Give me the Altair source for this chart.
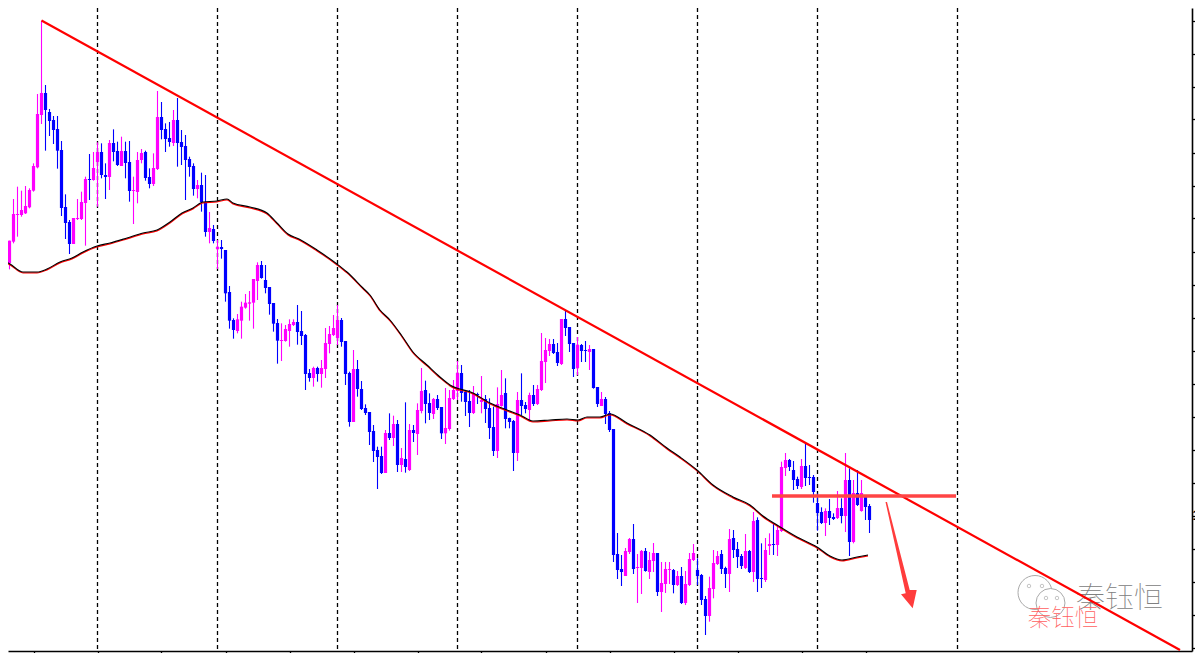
import altair as alt
import pandas as pd

# Candles: colour, high, body top, body bottom, low
# Each block is in units of 1/3 pixel, measured from the block's own top edge.
CANDLES_A = [  # offset 0
("b",660,705,742,745),("b",735,738,790,818),("m",722,722,790,808),("m",597,642,725,730),("m",560,642,645,710),
("m",572,630,645,650),("m",558,618,640,642),("m",565,570,622,625),("m",490,498,572,575),("m",282,342,502,505),
("m",62,279,345,372),("b",255,279,330,452),("b",327,336,363,408),("b",348,360,390,432),("b",348,387,452,506),
("b",423,450,624,648),("b",583,621,669,717),("b",660,666,732,762),("m",654,654,732,732),("m",597,654,657,660),
("m",575,606,657,660),("m",530,537,609,737),("b",462,537,540,600),("m",456,504,540,542),("m",427,456,486,620),
("b",430,456,525,535),("b",490,525,531,597),("m",420,429,531,570),("b",388,429,456,484),("b",425,453,495,498),
("m",410,453,498,498),("b",425,453,489,535),("b",423,486,573,605),("m",530,570,573,672),("m",456,480,576,610),
("m",447,459,480,490),("b",452,456,534,542),("b",505,531,552,565),("m",460,504,552,558),("m",273,351,507,510),
("b",306,351,390,418),("b",370,387,417,456),("b",366,414,426,440),("m",330,360,429,438),("b",294,360,429,500),
("b",390,426,441,495),("b",405,438,480,600),("b",470,477,501,530),("b",490,498,567,587),("m",540,555,567,595),
("b",518,555,606,635),("b",525,606,696,710),("m",636,684,696,730),("b",675,687,723,730),("m",720,741,747,807),
("b",720,741,747,776),
]
CANDLES_B = [  # offset 250
("b",0,0,130,155),("b",108,126,212,236),("b",205,210,240,266),("m",192,208,243,250),("m",155,170,212,266),
("m",132,158,173,176),("m",123,157,161,212),("m",87,87,158,236),("m",37,45,93,150),("b",33,45,84,86),
("b",45,90,114,130),("b",111,111,162,194),("b",159,159,221,245),("b",207,219,272,341),("m",220,270,273,333),
("m",225,237,273,275),("m",208,222,243,290),("m",208,216,225,228),("b",165,216,246,284),("b",183,243,258,285),
("b",252,255,372,420),("b",357,369,384,395),("m",350,354,384,410),("b",350,354,372,395),("m",330,354,372,413),
("m",234,279,357,384),("m",228,252,282,310),("m",195,234,255,258),("m",165,210,264,285),("b",204,210,276,290),
("b",273,273,372,405),("b",365,369,516,530),("m",300,357,516,516),("b",330,357,417,440),("b",393,417,477,480),
("b",463,474,489,495),("b",486,486,546,585),("b",525,543,603,636),("b",590,600,621,717),("b",590,618,669,672),
("m",540,549,669,669),("b",490,549,564,570),("m",497,522,564,588),("b",510,522,645,666),("m",594,624,645,666),
("b",457,627,651,668),("m",522,540,660,663),("b",525,540,549,576),("m",460,480,552,615),("m",354,423,483,490),
("b",392,420,462,520),("b",430,459,489,510),("m",444,447,492,507),("b",435,447,474,480),
]
CANDLES_C = [  # offset 300
("b",321,321,400,417),("m",264,384,400,432),("m",270,294,387,392),("m",240,270,297,300),("m",183,219,273,300),
("b",195,219,279,305),("b",270,276,306,348),("b",270,303,339,381),("m",258,282,339,342),("b",278,282,285,312),
("m",228,300,306,340),("b",285,297,327,369),("b",295,324,384,417),("b",320,381,453,468),("m",262,312,453,474),
("m",210,285,318,320),("b",235,279,357,385),("b",353,354,366,385),("b",360,363,459,513),("m",276,300,459,483),
("b",220,300,318,345),("b",306,315,327,340),("m",278,285,330,360),("b",255,285,312,318),("m",255,267,312,315),
("m",99,183,270,273),("m",114,150,186,249),("m",117,132,153,168),("b",117,132,159,162),("b",129,156,189,198),
("m",57,57,192,195),("b",33,57,84,108),("b",81,81,132,156),("b",129,129,207,231),("m",111,135,204,226),
("b",132,135,153,186),("b",123,150,153,186),("m",135,147,156,210),("b",147,147,264,266),("b",261,261,312,321),
("m",276,297,318,318),("b",291,297,342,372),("b",333,339,390,396),("b",387,387,765,786),("b",699,762,810,837),
("b",765,807,816,858),("m",744,753,828,828),("m",714,717,756,762),("b",672,717,807,822),("m",762,801,804,909),
("m",750,753,804,882),("b",744,753,813,815),("m",756,780,816,837),("m",729,759,783,816),("b",759,759,876,888),
("m",786,849,876,936),("m",786,807,852,879),("m",786,807,810,852),("b",807,810,855,880),("m",813,828,855,858),
("b",801,828,909,912),("m",813,852,909,915),("m",759,777,855,858),("m",732,759,780,783),
]
CANDLES_D = [  # offset 430
("b",385,420,438,465),("b",432,435,510,525),("b",498,507,558,615),("m",440,474,558,575),("m",360,399,477,505),
("m",363,378,402,405),("b",360,372,417,432),("b",410,414,432,474),("m",297,327,432,486),("b",300,324,360,384),
("b",336,357,381,414),("b",372,378,408,417),("m",312,363,414,417),("b",360,363,426,429),("m",246,273,426,456),
("b",262,270,447,486),("b",340,444,447,474),("m",324,360,450,456),("m",310,342,348,375),("b",282,342,345,375),
("m",285,300,345,378),("m",95,111,303,306),("m",69,90,114,138),("b",87,90,111,123),("b",93,120,150,180),
("b",140,147,168,177),("m",87,108,171,177),("b",42,108,144,168),("b",105,141,144,165),("b",135,141,186,218),
("b",190,219,249,302),("b",232,246,279,282),("m",235,243,279,318),("b",207,243,264,285),("b",250,261,267,270),
("m",183,234,264,267),("b",205,234,258,280),("m",69,150,258,306),("b",115,150,336,378),("m",150,189,336,340),
("b",120,189,225,228),("m",150,189,243,245),("b",195,195,231,270),("b",222,228,270,309),
]
CANDLE_BLOCKS = [(CANDLES_A, 0), (CANDLES_B, 250), (CANDLES_C, 300), (CANDLES_D, 430)]

# Moving average, pixels
MA_X = [0,10,23,37,47,60,72,83,97,110,127,143,157,170,182,193,203,217,227,233,250,267,277,288,299,
        317,337,347,363,370,380,390,402,413,427,440,
        450,473,490,507,520,533,550,567,578,587,600,610,627,650,667,680,
        697,713,733,750,763,777,797,817,830,842,857,868]
MA_Y = [259,264,272,272,269,262,258,252,246,243,238,233,230,222,213,208,202,201,199,203,207,213,223,234,239,
        250,264,272,288,295,310,320,336,352,365,377,
        385,393,403,410,415,421,420,419,420,417,417,414,423,435,448,457,
        470,485,497,505,516,525,537,547,556,560,557,555]

# Trend line, thick horizontal line, arrow head
TREND_X = [41.5, 1180]
TREND_Y = [20.5, 650]
LEVEL_X = [772, 956]
LEVEL_Y = [496, 496]
ARROW_X = [885.5, 887, 909.7, 916.7, 912.7, 901, 905.7, 885.5]
ARROW_Y = [502, 502, 590, 590, 608.3, 594.3, 593.3, 502]

GRID_X = [97.5, 217.5, 337.5, 457.5, 577.5, 697.5, 817.5, 957.5]
XTICKS = [33.5 + 64 * i for i in range(14)]
YTICKS = [20.5 + 33 * i for i in range(20)]
LABELLED_TICK = YTICKS[15]

BUBBLE_X = [1035, 1050.5]
BUBBLE_Y = [592.5, 603]
BUBBLE_SIZE = [1156, 840]
EYE_X = [1029, 1042, 1046, 1057]
EYE_Y = [586, 586, 598, 598]
TAIL1_X = [1023, 1021, 1030, 1023]
TAIL1_Y = [603, 611, 607, 603]
TAIL2_X = [1058, 1066, 1062, 1058]
TAIL2_Y = [615, 619, 611, 615]

XMIN, XMAX, YMIN, YMAX = 8, 1192, 8, 651

rows = []
k = 0
for block, off in CANDLE_BLOCKS:
    for c, hi, top, bot, lo in block:
        rows.append(dict(x=1.5 + 4 * k, c=c, hi=off + hi / 3, top=off + top / 3, bot=off + bot / 3, lo=off + lo / 3))
        k += 1
cd = pd.DataFrame(rows)

xscale = alt.Scale(domain=[XMIN, XMAX], nice=False, zero=False)
yscale = alt.Scale(domain=[YMAX, YMIN], nice=False, zero=False)
xaxis = alt.Axis(values=XTICKS, labels=False, grid=False, title=None, tickSize=3, tickColor="#000", tickWidth=1.3,
                 domainColor="#000", domainWidth=1.6)
yaxis = alt.Axis(orient="right", values=YTICKS, grid=False, title=None, tickSize=3, tickColor="#000", tickWidth=1.3,
                 domainColor="#000", domainWidth=1.6, labelPadding=-3, labelFontSize=14, labelFontWeight="bold",
                 labelColor="#000", labelFont="Liberation Sans",
                 labelExpr=f"abs(datum.value-{LABELLED_TICK})<0.1 ? '1' : ''")
Xn = alt.X("x:Q", scale=xscale, axis=xaxis)
Yn = alt.Y("y:Q", scale=yscale, axis=yaxis)

color = alt.Color("c:N", scale=alt.Scale(domain=["b", "m"], range=["#0000ff", "#ff00ff"]), legend=None)

grid = alt.Chart(pd.DataFrame({"x": GRID_X})).mark_rule(color="#000", strokeWidth=1.3, strokeDash=[4, 3]).encode(x=Xn)

wicks = alt.Chart(cd).mark_rule(strokeWidth=1.1, clip=True).encode(x=Xn, y=alt.Y("hi:Q", scale=yscale, axis=yaxis), y2="lo:Q", color=color)
bodies = alt.Chart(cd).mark_rule(strokeWidth=3.2, clip=True).encode(x=Xn, y=alt.Y("top:Q", scale=yscale, axis=yaxis), y2="bot:Q", color=color)

ma = pd.DataFrame({"x": MA_X, "y": MA_Y})
ma_red = ma.assign(y=ma.y + 0.9)
ma_r = alt.Chart(ma_red).mark_line(color="#ff0000", strokeWidth=1.2, clip=True, interpolate="monotone").encode(x=Xn, y=Yn)
ma_k = alt.Chart(ma).mark_line(color="#000000", strokeWidth=1.1, clip=True, interpolate="monotone").encode(x=Xn, y=Yn)

trend = alt.Chart(pd.DataFrame({"x": TREND_X, "y": TREND_Y})).mark_line(color="#ff0000", strokeWidth=2.2).encode(x=Xn, y=Yn)
level = alt.Chart(pd.DataFrame({"x": LEVEL_X, "y": LEVEL_Y})).mark_line(color="#ff4444", strokeWidth=3.6).encode(x=Xn, y=Yn)


def polygon(xs, ys, fill, stroke, width=1):
    frame = pd.DataFrame({"x": xs, "y": ys, "o": list(range(len(xs)))})
    return alt.Chart(frame).mark_line(color=stroke, fill=fill, strokeWidth=width, filled=True).encode(x=Xn, y=Yn, order="o:Q")


arrow = polygon(ARROW_X, ARROW_Y, "#ff3c3c", "#ff3c3c", 0.5)
tail1 = polygon(TAIL1_X, TAIL1_Y, "#ffffff", "#aaaaaa")
tail2 = polygon(TAIL2_X, TAIL2_Y, "#ffffff", "#aaaaaa")

bubble1 = alt.Chart(pd.DataFrame({"x": BUBBLE_X[:1], "y": BUBBLE_Y[:1], "s": BUBBLE_SIZE[:1]})).mark_point(
    shape="circle", filled=True, fill="#ffffff", stroke="#aaaaaa", strokeWidth=1, opacity=1
).encode(x=Xn, y=Yn, size=alt.Size("s:Q", scale=None, legend=None))
bubble2 = alt.Chart(pd.DataFrame({"x": BUBBLE_X[1:], "y": BUBBLE_Y[1:], "s": BUBBLE_SIZE[1:]})).mark_point(
    shape="circle", filled=True, fill="#ffffff", stroke="#aaaaaa", strokeWidth=1, opacity=1
).encode(x=Xn, y=Yn, size=alt.Size("s:Q", scale=None, legend=None))
eyes = alt.Chart(pd.DataFrame({"x": EYE_X, "y": EYE_Y})).mark_point(
    shape="circle", size=12, color="#999999", strokeWidth=0.8
).encode(x=Xn, y=Yn)

gray = alt.Chart(pd.DataFrame({"x": [1119.5], "y": [599], "t": ["秦钰恒"]})).mark_text(
    font="Noto Sans CJK SC", fontSize=29, color="#808080", fontWeight="lighter", align="center", baseline="middle"
).encode(x=Xn, y=Yn, text="t:N")
red = alt.Chart(pd.DataFrame({"x": [1063], "y": [619], "t": ["秦钰恒"]})).mark_text(
    font="Noto Sans CJK SC", fontSize=23.5, color="#ff6060", fontWeight="lighter", align="center", baseline="middle"
).encode(x=Xn, y=Yn, text="t:N")

chart = alt.layer(
    grid, wicks, bodies, ma_r, ma_k, tail1, bubble1, tail2, bubble2, eyes, gray, red, trend, level, arrow
).properties(
    width=XMAX - XMIN, height=YMAX - YMIN,
    padding={"left": 0, "top": 0, "right": 3, "bottom": 2},
    autosize=alt.AutoSizeParams(type="none"),
    background="#ffffff",
).configure_view(stroke=None)

chart.save("out.html", embed_options={"renderer": "svg", "actions": False})
